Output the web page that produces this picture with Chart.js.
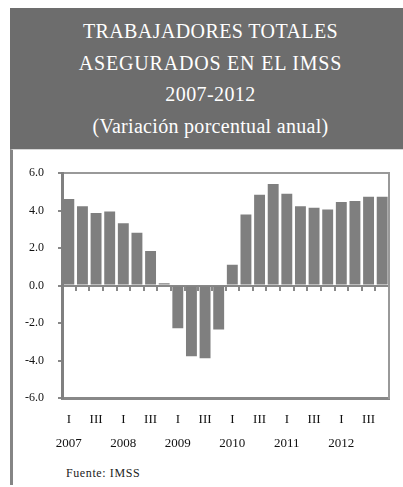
<!DOCTYPE html>
<html>
<head>
<meta charset="utf-8">
<script src="https://cdn.jsdelivr.net/npm/chart.js@4/dist/chart.umd.min.js"></script>
<style>
  html, body { margin:0; padding:0; background:#fff; }
  body { width:403px; height:487px; position:relative; overflow:hidden; font-family:"Liberation Serif", serif; }
  .header { position:absolute; left:10px; top:8px; width:393px; height:141px; padding-left:8px; box-sizing:border-box; background:#6d6d6d; color:#fff; text-align:center; }
  .header div { font-size:20px; height:31.7px; line-height:31.7px; }
  .header .l1 { margin-top:8px; letter-spacing:0.4px; }
  .header .l2 { letter-spacing:0.8px; }
  .header .l3 { letter-spacing:0.4px; }
  .header .l4 { letter-spacing:0.3px; }
  .frame { position:absolute; left:10px; top:149px; width:393px; height:336px; border-left:3px solid #858585; border-top:1px solid #d6d6d6; box-sizing:border-box; }
  .chart-box { position:absolute; left:14px; top:152px; width:386px; height:302px; }
  .source { position:absolute; left:66px; top:466px; font-size:12px; color:#222; letter-spacing:0.6px; }
</style>
</head>
<body>
<div class="header">
  <div class="l1">TRABAJADORES TOTALES</div>
  <div class="l2">ASEGURADOS EN EL IMSS</div>
  <div class="l3">2007-2012</div>
  <div class="l4">(Variación porcentual anual)</div>
</div>
<div class="frame"></div>
<div class="chart-box"><canvas id="chartImss"></canvas></div>
<div class="source">Fuente: IMSS</div>

<script>
// trimestres 2007 - 2012
const quarterLabels = ['I','','III','', 'I','','III','', 'I','','III','', 'I','','III','', 'I','','III','', 'I','','III',''];
const yearLabels    = ['2007','','','', '2008','','','', '2009','','','', '2010','','','', '2011','','','', '2012','','',''];
const variacion     = [4.62, 4.23, 3.88, 3.95,  3.33, 2.82, 1.85, 0.12,  -2.28, -3.77, -3.88, -2.35,
                       1.11, 3.79, 4.85, 5.43,  4.9, 4.23, 4.16, 4.06,  4.46, 4.51, 4.74, 4.74];
const yTicks = [-6, -4, -2, 0, 2, 4, 6];

const gray = '#7f7f7f';
const tickFont = { family:'"Liberation Serif", serif', size:12 };

new Chart(document.getElementById('chartImss'), {
  type: 'bar',
  data: {
    labels: quarterLabels.map((q, i) => [q, yearLabels[i]]),
    datasets: [{ data: variacion, backgroundColor: gray, borderWidth: 0, categoryPercentage: 0.8, barPercentage: 1 }]
  },
  options: {
    responsive:true, maintainAspectRatio:false, animation:false,
    layout:{ padding:{ top:19, right:11, left:0, bottom:0 } },
    plugins:{ legend:{ display:false }, tooltip:{ enabled:false } },
    scales:{
      x:{
        position:'bottom',
        grid:{ display:false },
        border:{ display:true, color:'#888', width:3 },
        ticks:{ color:'#111', font:{ family:tickFont.family, size:13, lineHeight:1.9 }, autoSkip:false, maxRotation:0, padding:1 },
        afterFit: s => { s.height = 56; }
      },
      xTop:{
        position:'top', type:'category', offset:true,
        grid:{ display:false }, ticks:{ display:false },
        border:{ display:true, color:'#999', width:2 },
        afterFit: s => { s.height = 0; }
      },
      xZero:{
        position:{ y:0 }, type:'category', offset:true,
        grid:{ display:true, offset:true, drawOnChartArea:false, drawTicks:true, tickLength:5, color:'#888', lineWidth:2 },
        ticks:{ display:false },
        border:{ display:false }
      },
      y:{
        min:-6, max:6,
        afterBuildTicks: s => { s.ticks = yTicks.map(v => ({ value:v })); },
        grid:{ drawOnChartArea:true, drawTicks:true, tickLength:4, tickColor:'#888',
               color: c => (c.tick && c.tick.value === 0) ? '#888' : 'rgba(0,0,0,0)', lineWidth:2 },
        border:{ display:true, color:'#808080', width:3 },
        ticks:{ color:'#111', font:tickFont, padding:14, callback: v => Number(v).toFixed(1) },
        afterFit: s => { s.width = 48; }
      },
      yRight:{
        position:'right', min:-6, max:6,
        grid:{ display:false }, ticks:{ display:false },
        border:{ display:true, color:'#999', width:2 },
        afterFit: s => { s.width = 0; }
      }
    }
  }
});
</script>
</body>
</html>
